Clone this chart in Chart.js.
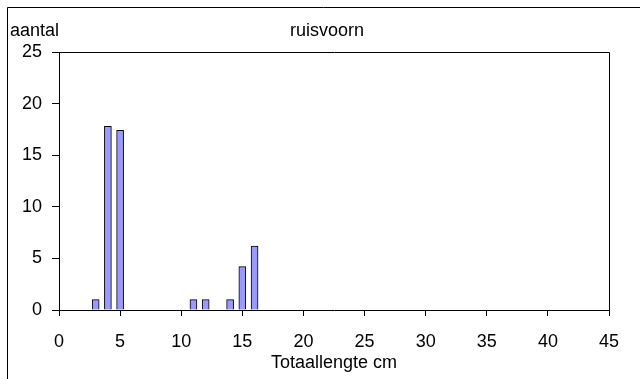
<!DOCTYPE html>
<html>
<head>
<meta charset="utf-8">
<script src="https://cdn.jsdelivr.net/npm/chart.js@4"></script>
<style>
  html, body { margin: 0; padding: 0; background: #fff; }
  #wrap { width: 640px; height: 379px; }
</style>
</head>
<body>
<div id="wrap"><canvas id="lengte-chart" width="640" height="379"></canvas></div>
<script>
// lengteklassen (cm) en aantallen ruisvoorn
var lengtes = [3, 4, 5, 11, 12, 14, 15, 16];
var aantallen = [1, 17.8, 17.4, 1, 1, 1, 4.2, 6.2];
var titel = "ruisvoorn";
var yTitel = "aantal";
var xTitel = "Totaallengte cm";

var font = { family: "'Liberation Sans', Arial, sans-serif", size: 18, weight: 'normal' };

// kader rond de hele grafiek, kader rond het plotvlak, titel en "aantal"
var kader = {
  id: 'kader',
  afterDraw: function(chart) {
    var ctx = chart.ctx, a = chart.chartArea;
    ctx.save();
    ctx.strokeStyle = '#000';
    ctx.lineWidth = 1;
    ctx.beginPath();
    ctx.moveTo(7.5, chart.height);
    ctx.lineTo(7.5, 7.5);
    ctx.lineTo(chart.width, 7.5);
    ctx.stroke();
    ctx.beginPath();
    ctx.moveTo(Math.round(a.left) + 0.5, Math.round(a.top) + 0.5);
    ctx.lineTo(Math.round(a.right) + 0.5, Math.round(a.top) + 0.5);
    ctx.lineTo(Math.round(a.right) + 0.5, Math.round(a.bottom) + 0.5);
    ctx.stroke();
    ctx.fillStyle = '#000';
    ctx.font = font.size + 'px ' + font.family;
    ctx.textBaseline = 'alphabetic';
    ctx.textAlign = 'left';
    ctx.fillText(yTitel, 10, 36);
    ctx.textAlign = 'center';
    ctx.fillText(titel, 327, 36);
    ctx.restore();
  }
};

new Chart(document.getElementById("lengte-chart"), {
  type: 'bar',
  data: {
    datasets: [{
      label: titel,
      data: lengtes.map(function(l, i) { return { x: l, y: aantallen[i] }; }),
      backgroundColor: "#9999ff",
      borderColor: "#000",
      borderWidth: 1,
      borderSkipped: 'bottom',
      barThickness: 7
    }]
  },
  options: {
    responsive: false,
    animation: false,
    layout: { padding: { left: 0, right: 31, top: 52, bottom: 0 } },
    plugins: {
      legend: { display: false },
      tooltip: { enabled: false },
      title: { display: false }
    },
    scales: {
      x: {
        type: 'linear',
        min: 0,
        max: 45,
        offset: false,
        ticks: { stepSize: 5, color: '#000', font: font, padding: 15, maxRotation: 0 },
        grid: { drawOnChartArea: false, drawTicks: true, tickLength: 6, color: '#000', offset: false },
        border: { display: true, color: '#000', width: 1 },
        title: { display: true, text: xTitel, color: '#000', font: font, padding: { top: 0, bottom: 5 } },
        afterFit: function(s) { s.height = 69; }
      },
      y: {
        min: 0,
        max: 25,
        ticks: { stepSize: 5, color: '#000', font: font, padding: 10 },
        grid: { drawOnChartArea: false, drawTicks: true, tickLength: 7, color: '#000' },
        border: { display: true, color: '#000', width: 1 },
        afterFit: function(s) { s.width = 59; }
      }
    }
  },
  plugins: [kader]
});
</script>
</body>
</html>
